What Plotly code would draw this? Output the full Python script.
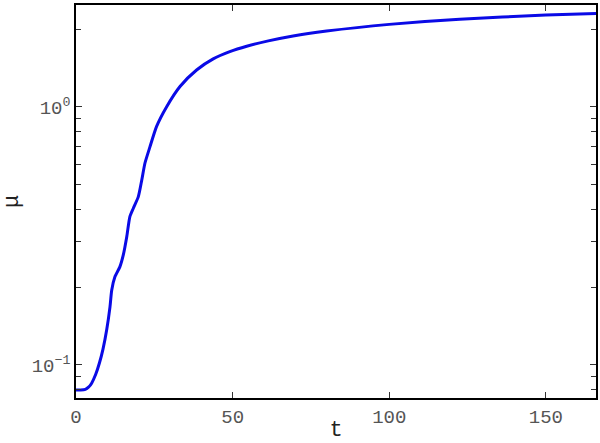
import plotly.graph_objects as go

t = [0, 1.5, 3.0, 4.0, 5.0, 6.3, 7.5, 8.6, 9.8, 10.85, 11.4, 12.45, 14.0, 15.1, 16.2, 17.2, 18.3,
     19.9, 21.0, 22.0, 23.6, 25.7, 28.9, 33.2, 38.5, 43.8, 49.1, 54.5, 61.4, 69.3, 80, 100, 122.5, 150, 166]
mu = [0.080, 0.080, 0.0805, 0.082, 0.085, 0.092, 0.102, 0.115, 0.137, 0.168, 0.195, 0.220, 0.240,
      0.267, 0.314, 0.376, 0.405, 0.449, 0.521, 0.605, 0.70, 0.839, 1.0, 1.2, 1.39, 1.535, 1.637,
      1.718, 1.803, 1.884, 1.968, 2.089, 2.188, 2.270, 2.301]

x_ticks = [0, 50, 100, 150]
y_ticks = [0.1, 1]
y_ticktext = ["10<sup>\u22121</sup>", "10<sup>0</sup>"]
y_minor = [0.08, 0.09, 0.2, 0.3, 0.4, 0.5, 0.6, 0.7, 0.8, 0.9, 2]

font_family = "Liberation Mono, Courier New, monospace"

fig = go.Figure()
fig.add_trace(go.Scatter(x=t, y=mu, mode="lines",
                         line=dict(color="#0a0ae6", width=3, shape="spline", smoothing=0.6),
                         showlegend=False))

fig.update_layout(
    width=600, height=443,
    margin=dict(l=76, r=4, t=5, b=45),
    paper_bgcolor="white", plot_bgcolor="white",
    font=dict(family=font_family, size=19, color="#555"),
)
fig.update_xaxes(
    range=[0, 166], tickvals=x_ticks, ticks="inside", ticklen=6, tickcolor="#333",
    showline=True, linecolor="black", linewidth=1.5, mirror="ticks", showgrid=False,
    zeroline=False, automargin=False,
    title=dict(text="t", font=dict(size=22, color="#222"), standoff=0),
)
fig.update_yaxes(
    type="log", range=[-1.128, 0.395], tickvals=y_ticks, ticktext=y_ticktext,
    ticks="inside", ticklen=6, tickcolor="#333",
    minor=dict(tickvals=y_minor, ticks="inside", ticklen=5, tickcolor="#333", showgrid=False),
    showline=True, linecolor="black", linewidth=1.5, mirror="ticks", showgrid=False,
    zeroline=False, automargin=False,
    title=dict(text="\u03bc", font=dict(size=22, color="#222"), standoff=14),
)

fig.write_html("out.html", config={"displayModeBar": False},
               post_script="document.body.style.margin='0';document.body.style.overflow='hidden';")
